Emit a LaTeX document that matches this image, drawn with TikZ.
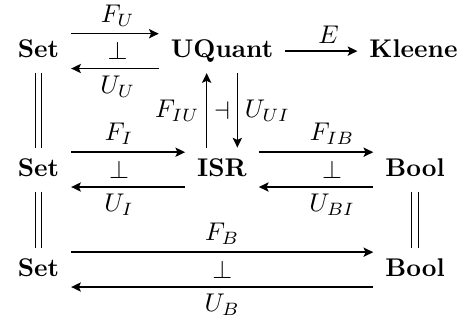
\documentclass[tikz,border=0pt]{standalone}
\usetikzlibrary{arrows.meta}
\begin{document}
\begin{tikzpicture}[x=0.390625pt, y=-0.390625pt,
  obj/.style={font=\bfseries, anchor=base, text height=6.9pt, text depth=1.9pt, inner xsep=4.5pt, inner ysep=4pt},
  arr/.style={line width=0.6pt, -{Stealth[length=3.8pt,width=3.6pt,inset=0.8pt]}},
  eq/.style={double, double distance=2pt, line width=0.45pt},
  lab/.style={inner sep=2.6pt}]
\useasboundingbox (0,0) rectangle (466,322);
% objects
\node[obj] (s1) at (38.5,57.5) {Set};
\node[obj] (uq) at (222,57.5) {UQuant};
\node[obj] (kl) at (413.5,57.5) {Kleene};
\node[obj] (s2) at (38.5,176) {Set};
\node[obj] (isr) at (222,176) {ISR};
\node[obj] (b2) at (415,176) {Bool};
\node[obj] (s3) at (38.5,276) {Set};
\node[obj] (b3) at (415,276) {Bool};
% row 1
\draw[arr] ([yshift=6.8pt]s1.east) -- node[lab,above,pos=0.53] (lFU) {$F_U$} ([yshift=6.8pt]uq.west);
\draw[arr] ([yshift=-6.8pt]uq.west) -- node[lab,below,pos=0.47] (lUU) {$U_U$} ([yshift=-6.8pt]s1.east);
\path (s1.east) -- node[pos=0.53] (p1) {$\perp$} (uq.west);
\draw[arr] (uq.east) -- node[lab,above,pos=0.6] (lE) {$E$} (kl.west);
% verticals
\draw[arr] ([xshift=-6pt]isr.north) -- node[lab,left] (lFIU) {$F_{IU}$} ([xshift=-6pt]uq.south);
\draw[arr] ([xshift=6pt]uq.south) -- node[lab,right] (lUUI) {$U_{UI}$} ([xshift=6pt]isr.north);
\path (uq.south) -- node (p2) {$\dashv$} (isr.north);
% row 2
\draw[arr] ([yshift=6.8pt]s2.east) -- node[lab,above,pos=0.42] (lFI) {$F_I$} ([yshift=6.8pt]isr.west);
\draw[arr] ([yshift=-6.8pt]isr.west) -- node[lab,below,pos=0.58] (lUI) {$U_I$} ([yshift=-6.8pt]s2.east);
\path (s2.east) -- node[pos=0.42] (p3) {$\perp$} (isr.west);
\draw[arr] ([yshift=6.8pt]isr.east) -- node[lab,above,pos=0.64] (lFIB) {$F_{IB}$} ([yshift=6.8pt]b2.west);
\draw[arr] ([yshift=-6.8pt]b2.west) -- node[lab,below,pos=0.36] (lUBI) {$U_{BI}$} ([yshift=-6.8pt]isr.east);
\path (isr.east) -- node[pos=0.64] (p4) {$\perp$} (b2.west);
% row 3
\draw[arr] ([yshift=6.8pt]s3.east) -- node[lab,above] (lFB) {$F_B$} ([yshift=6.8pt]b3.west);
\draw[arr] ([yshift=-6.8pt]b3.west) -- node[lab,below] (lUB) {$U_B$} ([yshift=-6.8pt]s3.east);
\path (s3.east) -- node (p5) {$\perp$} (b3.west);
% equalities
\draw[eq] (s1) -- (s2);
\draw[eq] (s2) -- (s3);
\draw[eq] (b2) -- (b3);
\end{tikzpicture}
\end{document}
